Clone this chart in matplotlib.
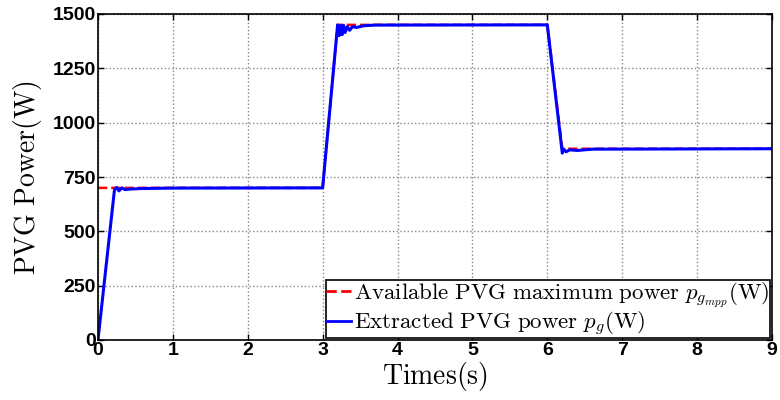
import matplotlib
matplotlib.use("Agg")
import matplotlib.pyplot as plt

plt.rcParams['mathtext.fontset'] = 'cm'

# Available PVG maximum power (W)
t_avail = [0.0, 3.0, 3.2, 6.0, 6.2, 9.0]
p_avail = [700, 700, 1450, 1450, 880, 880]

# Extracted PVG power (W)
t_extr = [0.0, 0.22, 0.25, 0.28, 0.32, 0.36, 0.45, 0.6, 1.0, 3.0,
          3.2, 3.22, 3.24, 3.26, 3.28, 3.3, 3.33, 3.36, 3.4, 3.45, 3.55, 3.7, 6.0,
          6.2, 6.22, 6.25, 6.3, 6.4, 6.6, 9.0]
p_extr = [0, 690, 702, 686, 700, 692, 695, 697, 699, 700,
          1450, 1400, 1448, 1405, 1448, 1415, 1442, 1425, 1442, 1438, 1446, 1449, 1450,
          860, 878, 866, 875, 872, 878, 880]

xticks = [0, 1, 2, 3, 4, 5, 6, 7, 8, 9]
yticks = [0, 250, 500, 750, 1000, 1250, 1500]

fig = plt.figure(figsize=(7.8, 4.0), dpi=100)
ax = fig.add_axes([0.1256, 0.15, 0.8641, 0.815])

ax.plot(t_avail, p_avail, color='red', linestyle='--', linewidth=1.8,
        label=r'$\mathrm{Available\ PVG\ maximum\ power\ }p_{g_{mpp}}\mathrm{(W)}$')
ax.plot(t_extr, p_extr, color='blue', linestyle='-', linewidth=2.2,
        label=r'$\mathrm{Extracted\ PVG\ power\ }p_{g}\mathrm{(W)}$')

ax.set_xlim(0, 9)
ax.set_ylim(0, 1500)
ax.set_xticks(xticks)
ax.set_yticks(yticks)
ax.tick_params(direction='in', length=4, width=1, top=True, right=True, pad=1.5)
for lab in ax.get_xticklabels() + ax.get_yticklabels():
    lab.set_fontfamily('Liberation Sans')
    lab.set_fontweight('bold')
    lab.set_fontsize(14)
ax.grid(True, linestyle=':', color='#888888', linewidth=1)
for sp in ax.spines.values():
    sp.set_linewidth(1.2)

ax.set_xlabel(r'$\mathrm{Times(s)}$', fontsize=20, labelpad=1)
ax.set_ylabel(r'$\mathrm{PVG\ Power(W)}$', fontsize=20, labelpad=6)

leg = ax.legend(loc='lower right', fontsize=16.5, frameon=True, fancybox=False,
                edgecolor='black', framealpha=1, borderpad=0.0, labelspacing=0.0,
                handlelength=1.1, handletextpad=0.15, borderaxespad=0.1)
leg.get_frame().set_linewidth(1.2)
for line in leg.get_lines():
    line.set_linewidth(2.0)

fig.savefig('out.png', dpi=100)
